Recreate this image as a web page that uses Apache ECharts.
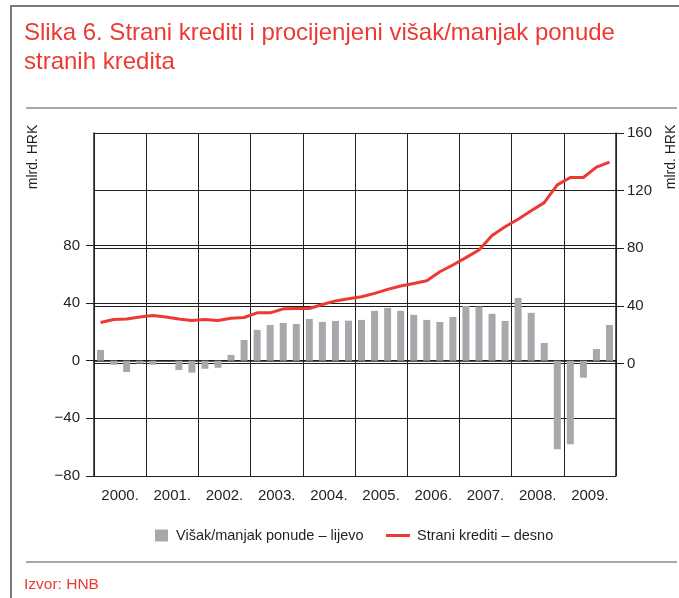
<!DOCTYPE html>
<html>
<head>
<meta charset="utf-8">
<script src="https://cdn.jsdelivr.net/npm/echarts@6/dist/echarts.min.js"></script>
<style>
html,body{margin:0;padding:0;background:#fff;}
#chart{width:679px;height:598px;}
</style>
</head>
<body>
<div id="chart"></div>
<script>
var years = ['2000.', '2001.', '2002.', '2003.', '2004.', '2005.', '2006.', '2007.', '2008.', '2009.'];
var quarters = ['Q1', 'Q2', 'Q3', 'Q4'];
var surplusDeficit = [
  7.5, -2.8, -7.9, -2,
  -2.8, 0, -6.5, -8.3,
  -5.6, -4.9, 4, 14.4,
  21.4, 24.8, 26.2, 25.5,
  29, 26.9, 27.6, 27.8,
  28.3, 34.6, 36.7, 34.6,
  31.8, 28.3, 26.9, 30.4,
  38, 37.6, 32.5, 27.6,
  43.6, 33.2, 12.3, -61.4,
  -58, -11.8, 8.1, 24.8
];
var foreignLoans = [
  28.5, 30.6, 31.0, 32.4,
  33.4, 32.4, 31.0, 29.9,
  30.6, 29.9, 31.5, 32.0,
  35.2, 35.2, 38.0, 38.2,
  38.2, 41.0, 43.5, 45.0,
  46.4, 48.7, 51.5, 53.8,
  55.6, 57.5, 63.7, 68.4,
  73.5, 78.8, 88.8, 95.0,
  100.2, 106.0, 111.7, 124.0,
  129.1, 129.1, 136.3, 139.8
];
var leftTicks = [-80, -40, 0, 40, 80];
var rightTicks = [0, 40, 80, 120, 160];
var seriesNames = ['Višak/manjak ponude – lijevo', 'Strani krediti – desno'];
var titleText = 'Slika 6. Strani krediti i procijenjeni višak/manjak ponude\nstranih kredita';
var unitText = 'mlrd. HRK';
var sourceText = 'Izvor: HNB';

var quarterCats = [];
years.forEach(function (y) { quarters.forEach(function (q) { quarterCats.push(y + ' ' + q); }); });

var RED = '#ec3a33';
var GREY = '#a7a8ab';
var INK = '#231f20';
var FONT = "'Liberation Sans', Arial, Helvetica, sans-serif";

function fmt(v) { return v < 0 ? '\u2212' + Math.abs(v) : String(v); }

var chart = echarts.init(document.getElementById('chart'), null, {renderer: 'canvas'});
chart.setOption({
  animation: false,
  backgroundColor: '#fff',
  textStyle: {fontFamily: FONT},
  title: {
    text: titleText,
    left: 19, top: 14,
    textStyle: {color: RED, fontSize: 24, fontWeight: 'normal', lineHeight: 29, fontFamily: FONT}
  },
  grid: {left: 94, right: 63, top: 133, bottom: 122, containLabel: false},
  legend: [
    {
      data: [{name: seriesNames[0], icon: 'rect'}],
      left: 150, top: 523, padding: 5,
      itemWidth: 13, itemHeight: 12,
      textStyle: {color: INK, fontSize: 14.5, fontFamily: FONT, padding: [0, 0, 0, 3]}
    },
    {
      data: [{name: seriesNames[1], icon: 'rect'}],
      left: 381, top: 523, padding: 5,
      itemWidth: 24, itemHeight: 3,
      textStyle: {color: INK, fontSize: 14.5, fontFamily: FONT, padding: [0, 0, 0, 2]}
    }
  ],
  xAxis: [
    {
      type: 'category', data: quarterCats, position: 'bottom',
      axisLine: {show: true, lineStyle: {color: INK, width: 1.5}},
      axisTick: {show: false}, axisLabel: {show: false}, splitLine: {show: false}
    },
    {
      type: 'category', data: years, position: 'bottom', boundaryGap: true,
      axisLine: {show: false},
      axisTick: {show: false},
      axisLabel: {show: true, color: INK, fontSize: 15, margin: 12, fontFamily: FONT},
      splitLine: {show: true, lineStyle: {color: INK, width: 1}}
    }
  ],
  yAxis: [
    {
      type: 'value', min: -80, max: 158, interval: 40, position: 'left',
      axisLine: {show: true, lineStyle: {color: INK, width: 1.5}},
      axisTick: {show: true, length: 8, customValues: leftTicks, lineStyle: {color: INK}},
      axisLabel: {customValues: leftTicks, color: INK, fontSize: 15, margin: 14, formatter: fmt, fontFamily: FONT},
      splitLine: {show: true, lineStyle: {color: INK, width: 1}}
    },
    {
      type: 'value', min: -78, max: 160, interval: 40, position: 'right',
      axisLine: {show: true, lineStyle: {color: INK, width: 1.5}},
      axisTick: {show: true, length: 8, customValues: rightTicks, lineStyle: {color: INK}},
      axisLabel: {customValues: rightTicks, color: INK, fontSize: 15, margin: 11, formatter: fmt, fontFamily: FONT},
      splitLine: {show: true, lineStyle: {color: INK, width: 1}}
    }
  ],
  series: [
    {
      name: seriesNames[0], type: 'bar', xAxisIndex: 0, yAxisIndex: 0,
      data: surplusDeficit, barWidth: 7,
      itemStyle: {color: GREY}
    },
    {
      name: seriesNames[1], type: 'line', xAxisIndex: 0, yAxisIndex: 1,
      data: foreignLoans, symbol: 'none', showSymbol: false,
      lineStyle: {color: RED, width: 3}, itemStyle: {color: RED}, z: 5
    }
  ],
  graphic: [
    {type: 'line', shape: {x1: 11, y1: 5, x2: 11, y2: 598}, style: {stroke: '#7a7a7a', lineWidth: 2}},
    {type: 'line', shape: {x1: 10, y1: 6, x2: 679, y2: 6}, style: {stroke: '#7a7a7a', lineWidth: 2}},
    {type: 'line', shape: {x1: 26, y1: 108, x2: 677, y2: 108}, style: {stroke: '#555', lineWidth: 1.2}},
    {type: 'line', shape: {x1: 26, y1: 562, x2: 677, y2: 562}, style: {stroke: '#555', lineWidth: 1.2}},
    {type: 'text', x: 33, y: 157, rotation: Math.PI / 2,
     style: {text: unitText, align: 'center', verticalAlign: 'middle', fill: INK, fontSize: 14, fontFamily: FONT}},
    {type: 'text', x: 671, y: 157, rotation: Math.PI / 2,
     style: {text: unitText, align: 'center', verticalAlign: 'middle', fill: INK, fontSize: 14, fontFamily: FONT}},
    {type: 'text', x: 24, y: 585,
     style: {text: sourceText, align: 'left', verticalAlign: 'middle', fill: RED, fontSize: 15.5, fontFamily: FONT}}
  ]
});
</script>
</body>
</html>
